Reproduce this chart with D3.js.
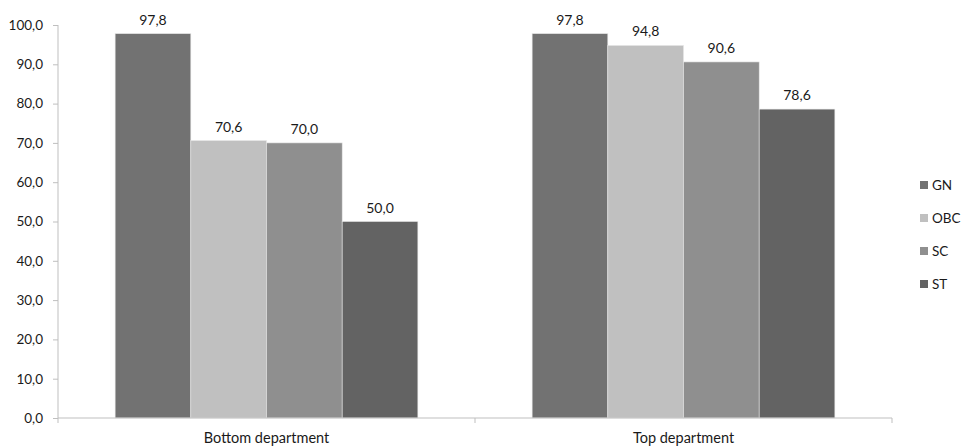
<!DOCTYPE html>
<html><head><meta charset="utf-8">
<script src="https://cdn.jsdelivr.net/npm/d3@7"></script>
<style>body{margin:0;background:#fff}svg{display:block}text{font-family:Lato,"Open Sans",sans-serif;fill:#1a1a1a}</style>
</head><body><svg id="c" width="962" height="448"></svg>
<script>
const categories = ["Bottom department", "Top department"];
const seriesNames = ["GN", "OBC", "SC", "ST"];
const GN = [97.8, 97.8];
const OBC = [70.6, 94.8];
const SC = [70.0, 90.6];
const ST = [50.0, 78.6];
const yTicks = [0,10,20,30,40,50,60,70,80,90,100];
const colors = ["#727272", "#c0c0c0", "#8f8f8f", "#636363"];

const series = [GN, OBC, SC, ST];
const svg = d3.select("#c");
const x0 = d3.scaleBand().domain(categories).range([58, 892]).paddingInner(0).paddingOuter(0);
const inner = 0.137;
const x1 = d3.scaleBand().domain(seriesNames).range([x0.bandwidth()*inner, x0.bandwidth()*(1-inner)]);
const y = d3.scaleLinear().domain([0,100]).range([418, 25]);
const fmt = v => v.toFixed(1).replace(".", ",");

// y axis
const ya = svg.append("g").attr("transform","translate(58,0)")
  .call(d3.axisLeft(y).tickValues(yTicks).tickSize(5).tickFormat(fmt));
ya.select(".domain").attr("stroke","#bfbfbf").attr("d","M0,25V418");
ya.selectAll(".tick line").attr("stroke","#bfbfbf");
ya.selectAll(".tick text").attr("x",-15).style("font-size","13.5px").style("font-family","Lato,'Open Sans',sans-serif").attr("fill","#1a1a1a");

// bars
categories.forEach((c,ci)=>{
  const g = svg.append("g").attr("transform",`translate(${x0(c)},0)`);
  seriesNames.forEach((s,si)=>{
    const v = series[si][ci];
    g.append("rect").attr("x",x1(s)).attr("y",y(v)).attr("width",x1.bandwidth()).attr("height",y(0)-y(v))
      .attr("fill",colors[si]).attr("stroke","#e6e6e6").attr("stroke-width",0.6);
    g.append("text").attr("x",x1(s)+x1.bandwidth()/2).attr("y",y(v)-9).attr("text-anchor","middle")
      .style("font-size","14px").text(fmt(v));
  });
});

// x axis
const xa = svg.append("g").attr("transform","translate(0,418)")
  .call(d3.axisBottom(x0).tickSize(0).tickPadding(0));
xa.select(".domain").attr("stroke","#bfbfbf").attr("d","M58,0H892");
xa.selectAll(".tick text").attr("y",25).attr("dy",0).style("font-size","14.5px").style("font-family","Lato,'Open Sans',sans-serif").attr("fill","#1a1a1a");
svg.append("g").selectAll("line").data(categories.map((c)=>x0(c)).concat([x0(categories[1])+x0.bandwidth()]))
  .join("line").attr("x1",d=>d).attr("x2",d=>d).attr("y1",418).attr("y2",423).attr("stroke","#bfbfbf");

// legend
const lg = svg.append("g").attr("transform","translate(920,185)");
seriesNames.forEach((s,i)=>{
  lg.append("rect").attr("x",0).attr("y",i*33-4).attr("width",8).attr("height",8).attr("fill",colors[i]);
  lg.append("text").attr("x",12).attr("y",i*33+5).style("font-size","13.5px").text(s);
});
</script></body></html>
